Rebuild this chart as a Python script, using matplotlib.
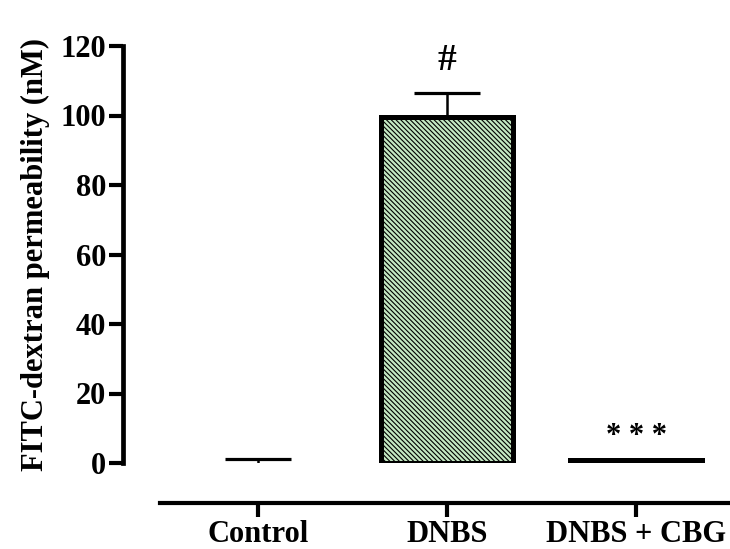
import matplotlib
matplotlib.use("Agg")
import matplotlib.pyplot as plt
import numpy as np

categories = ["Control", "DNBS", "DNBS + CBG"]
means = [0.0, 99.5, 1.0]
errors = [1.2, 7.1, 0.0]
annotations = ["", "#", "* * *"]
annot_y = [0, 115.7, 7.5]
yticks = [0, 20, 40, 60, 80, 100, 120]

plt.rcParams['font.family'] = ['Liberation Serif', 'DejaVu Serif']
plt.rcParams['font.weight'] = 'bold'
plt.rcParams['hatch.linewidth'] = 0.8
plt.rcParams['hatch.color'] = '#41704b'

fig = plt.figure(figsize=(7.30, 5.49), dpi=100)
ax = fig.add_axes([160/730, 1-463/549, 1-160/730, (463-46)/549])

x = np.arange(len(categories))
width = 0.70
cap_w = 0.35
for i in range(len(categories)):
    if means[i] > 0:
        ax.bar(x[i], means[i], width=width, color='#c4e8c2' if i == 1 else 'black',
               edgecolor='black', linewidth=3.6, hatch='\\' * 7 if i == 1 else None,
               zorder=2)
    if errors[i] > 0:
        ax.vlines(x[i], means[i], means[i] + errors[i], color='black', linewidth=1.8, zorder=3)
        ax.hlines(means[i] + errors[i], x[i] - cap_w / 2, x[i] + cap_w / 2,
                  color='black', linewidth=2.3, zorder=3)

for i, t in enumerate(annotations):
    if t:
        ax.text(x[i], annot_y[i], t, ha='center', va='center',
                fontsize=27 if t == '#' else 22, fontweight='bold')

ax.set_xlim(-98/189, (730-258)/189)
ax.set_ylim(0, 120)
ax.set_yticks(yticks)
ax.set_yticklabels([str(v) for v in yticks])
ax.set_xticks(x)
ax.set_xticklabels(categories)

ax.spines['top'].set_visible(False)
ax.spines['right'].set_visible(False)
ax.spines['left'].set_position(('outward', 37*0.72))
ax.spines['bottom'].set_position(('outward', 40*0.72))
ax.spines['left'].set_linewidth(3.4)
ax.spines['bottom'].set_linewidth(3.0)
ax.spines['left'].set_bounds(0, 120)

ax.tick_params(axis='y', length=10, width=3, pad=2, labelsize=22, direction='out')
ax.tick_params(axis='x', length=10, width=3, pad=2, labelsize=22, direction='out')
for lab in ax.get_xticklabels() + ax.get_yticklabels():
    lab.set_fontweight('bold')

ax.set_ylabel("FITC-dextran permeability (nM)", fontsize=22, fontweight='bold')
ax.yaxis.set_label_coords((50-160)/570, 0.5)

fig.savefig("out.png", dpi=100)
